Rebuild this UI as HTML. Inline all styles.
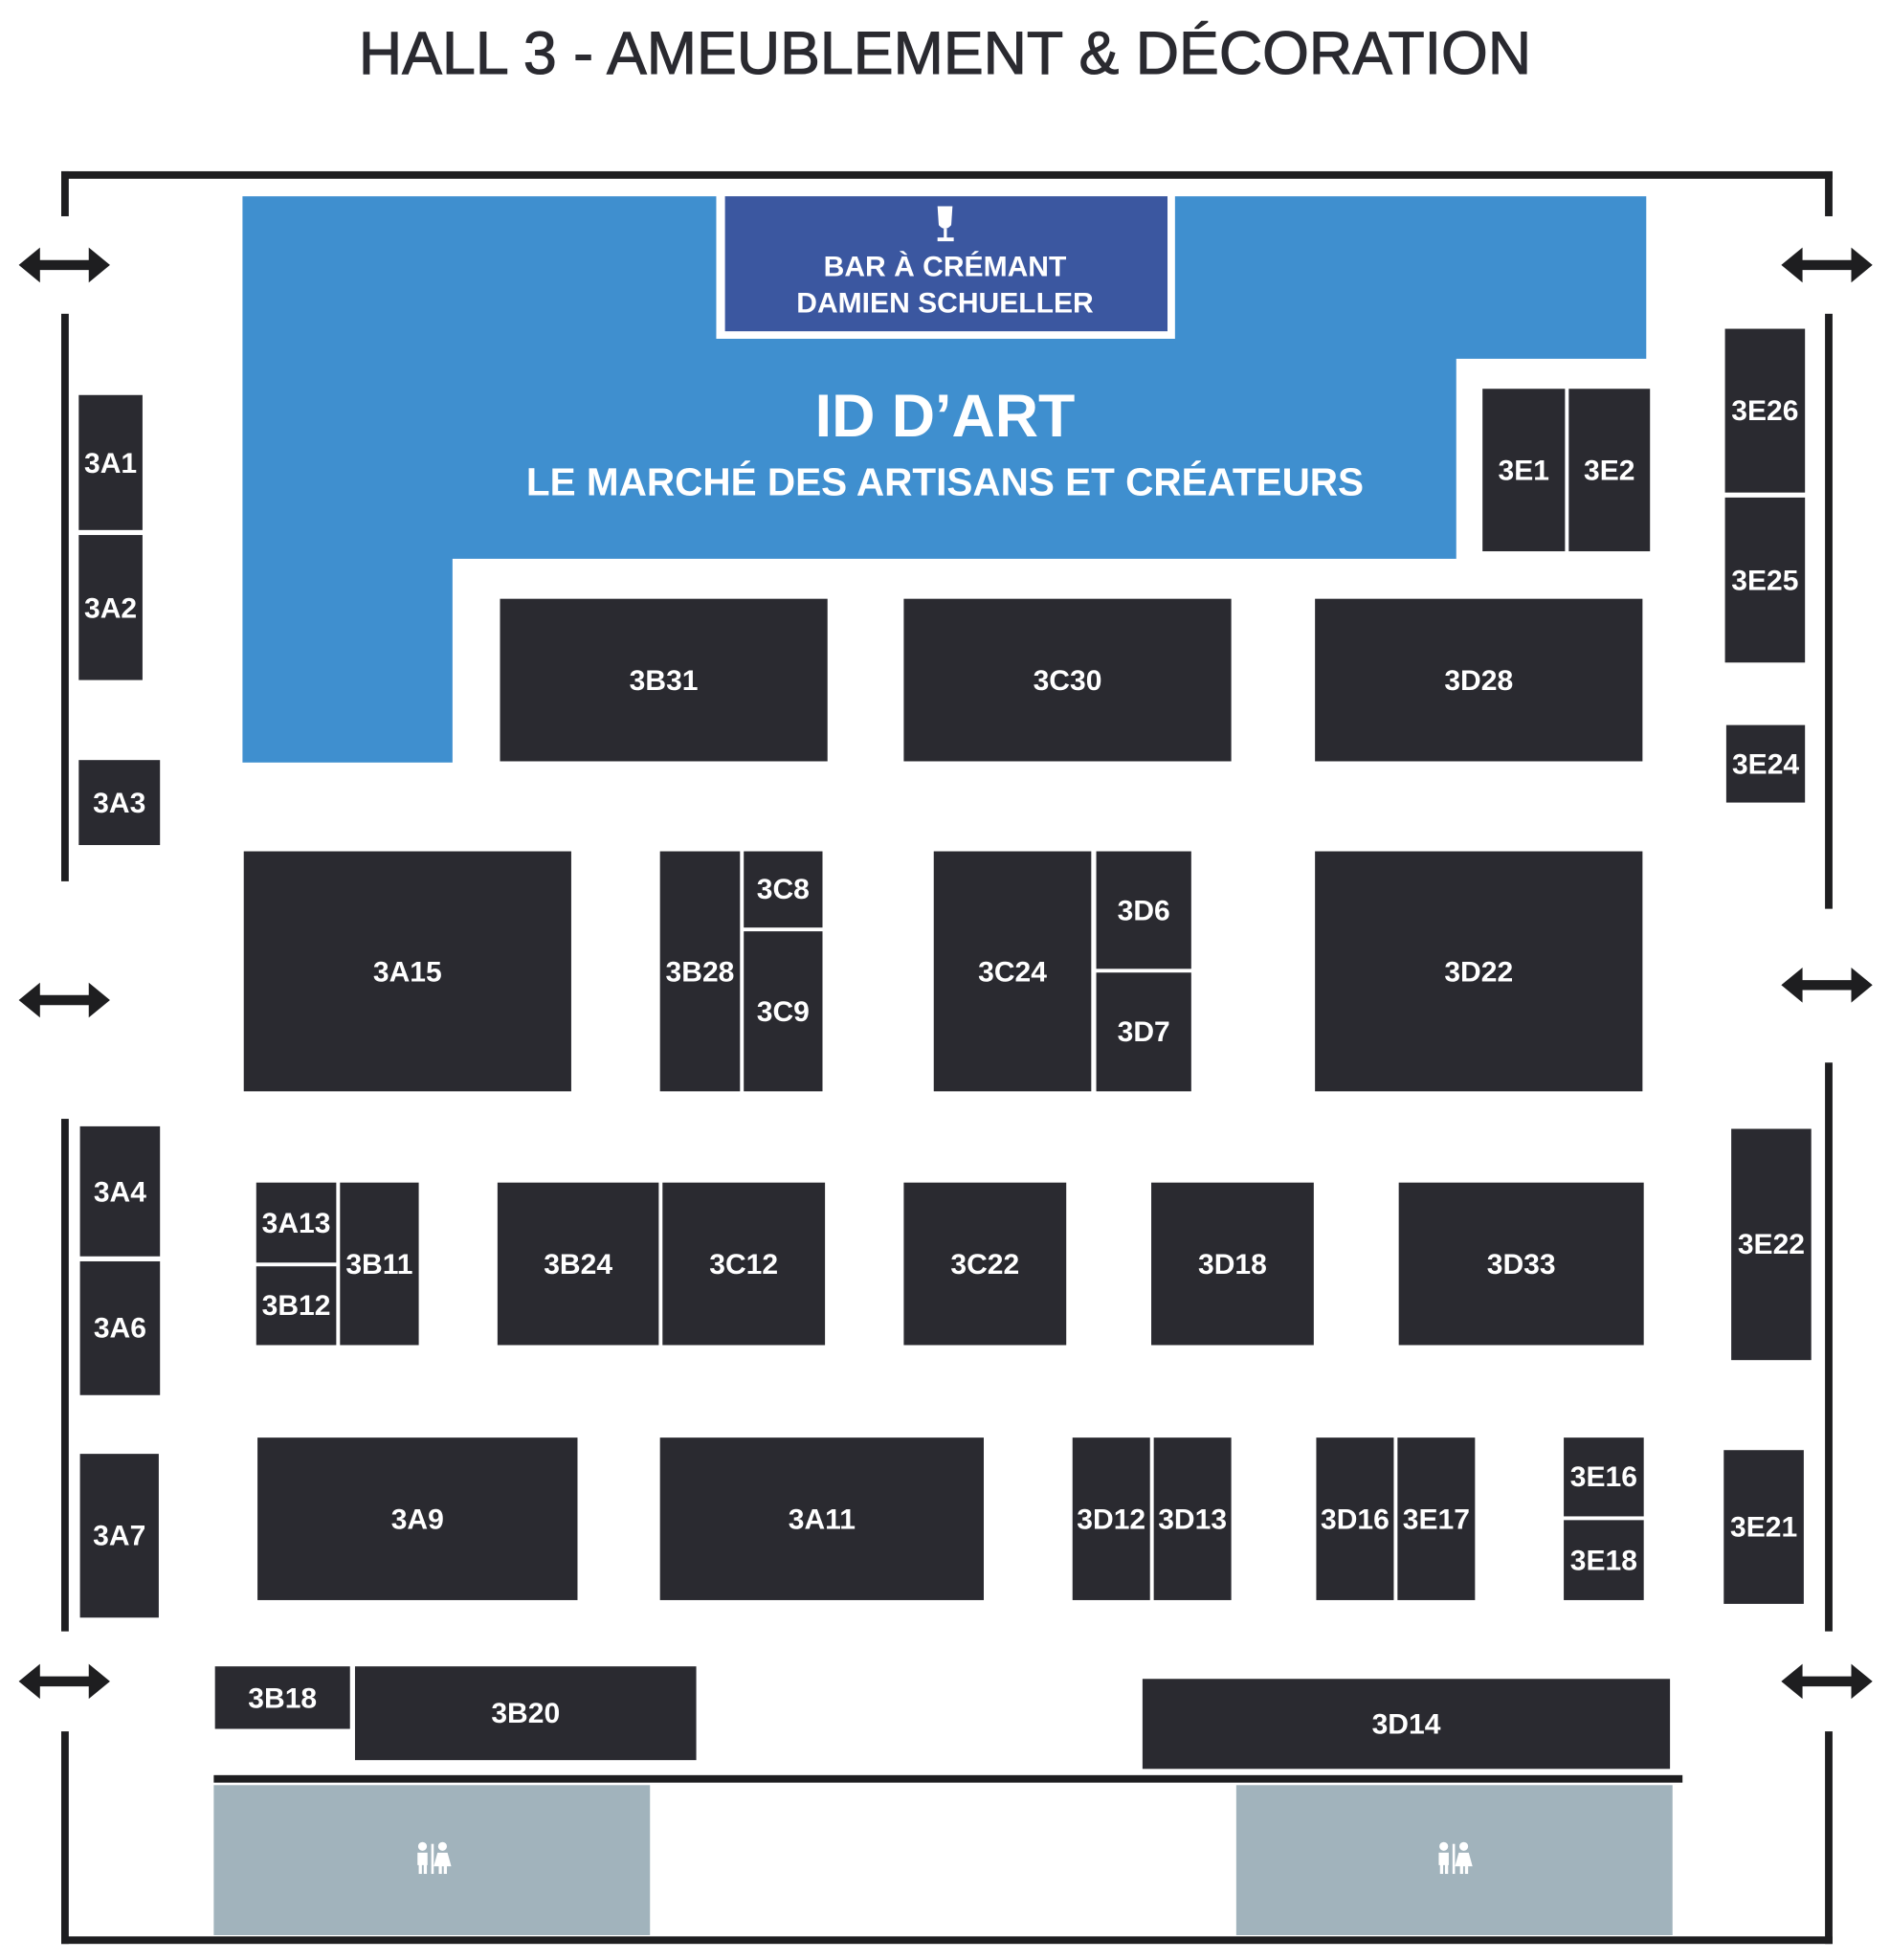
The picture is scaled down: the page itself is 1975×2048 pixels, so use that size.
<!DOCTYPE html>
<html><head><meta charset="utf-8"><style>
html,body{margin:0;padding:0;background:#fff;}
body{width:1975px;height:2048px;overflow:hidden;position:relative;}
#m{position:absolute;left:0;top:0;width:1512px;height:1568px;transform:scale(1.30622);transform-origin:0 0;font-family:"Liberation Sans",sans-serif;}
.b{position:absolute;background:#2a2a30;color:#fff;font-weight:bold;font-size:23px;display:flex;align-items:center;justify-content:center;}
.w{position:absolute;background:#1e1e20;}
.g{position:absolute;background:#a1b3bc;}
.t{position:absolute;left:0;width:1512px;text-align:center;color:#2a2a30;}
</style></head><body><div id="m">
<div class="t" style="top:16px;font-size:48px;-webkit-text-stroke:0.8px #2a2a30;">HALL 3 - AMEUBLEMENT &amp; DÉCORATION</div>

<div class="w" style="left:49px;top:137px;width:1417px;height:6px"></div>
<div class="w" style="left:49px;top:137px;width:6px;height:36px"></div>
<div class="w" style="left:49px;top:251px;width:6px;height:454px"></div>
<div class="w" style="left:49px;top:895px;width:6px;height:410px"></div>
<div class="w" style="left:49px;top:1385px;width:6px;height:170px"></div>
<div class="w" style="left:49px;top:1549px;width:1417px;height:6px"></div>
<div class="w" style="left:1460px;top:137px;width:6px;height:36px"></div>
<div class="w" style="left:1460px;top:251px;width:6px;height:476px"></div>
<div class="w" style="left:1460px;top:850px;width:6px;height:455px"></div>
<div class="w" style="left:1460px;top:1385px;width:6px;height:170px"></div>
<div class="w" style="left:171px;top:1420px;width:1175px;height:6px"></div>

<svg style="position:absolute;left:0;top:0" width="1512" height="1568">
<g fill="#1e1e20">
<path id="ar" d="M15,212 L32,198 L32,208 L71,208 L71,198 L88,212 L71,226 L71,216 L32,216 L32,226 Z"/>
<use href="#ar" y="588"/><use href="#ar" y="1133"/>
<use href="#ar" x="1410"/><use href="#ar" x="1410" y="576"/><use href="#ar" x="1410" y="1133"/>
</g>
<polygon points="194,157 1317,157 1317,287 1165,287 1165,447 362,447 362,610 194,610" fill="#3f8fcf"/>
<rect x="573" y="154" width="367" height="117" fill="#fff"/>
<rect x="580" y="157" width="354" height="108" fill="#3b57a0"/>
<g fill="#fff">
<path d="M750,165 L762,165 L761,180 Q756,186 751,180 Z"/><rect x="755" y="183" width="2.5" height="8"/><rect x="750" y="190" width="13" height="3"/>
</g>
</svg>
<div class="t" style="top:199px;font-size:23px;color:#fff;font-weight:bold;line-height:29px;">BAR À CRÉMANT<br>DAMIEN SCHUELLER</div>
<div class="t" style="top:306px;font-size:48px;color:#fff;font-weight:bold;">ID D’ART</div>
<div class="t" style="top:368px;font-size:31px;color:#fff;font-weight:bold;">LE MARCHÉ DES ARTISANS ET CRÉATEURS</div>

<div class="g" style="left:171px;top:1428px;width:349px;height:120px"></div>
<div class="g" style="left:989px;top:1428px;width:349px;height:120px"></div>
<svg style="position:absolute;left:0;top:0" width="1512" height="1568"><g fill="#fff">
<g id="wc2"><circle cx="338" cy="1477" r="3.5"/><rect x="334" y="1482" width="8" height="10"/><rect x="335" y="1491" width="2.5" height="8"/><rect x="339" y="1491" width="2.5" height="8"/>
<rect x="345" y="1475" width="2" height="24"/>
<circle cx="354" cy="1477" r="3.5"/><path d="M350,1482 L358,1482 L361,1493 L347,1493 Z"/><rect x="351" y="1492" width="2.5" height="7"/><rect x="355" y="1492" width="2.5" height="7"/></g>
<use href="#wc2" x="817"/></g></svg>

<div class="b" style="left:63px;top:316px;width:51px;height:108px">3A1</div>
<div class="b" style="left:63px;top:428px;width:51px;height:116px">3A2</div>
<div class="b" style="left:63px;top:608px;width:65px;height:68px">3A3</div>
<div class="b" style="left:1186px;top:311px;width:66px;height:130px">3E1</div>
<div class="b" style="left:1255px;top:311px;width:65px;height:130px">3E2</div>
<div class="b" style="left:1380px;top:263px;width:64px;height:131px">3E26</div>
<div class="b" style="left:1380px;top:398px;width:64px;height:132px">3E25</div>
<div class="b" style="left:1381px;top:580px;width:63px;height:62px">3E24</div>
<div class="b" style="left:400px;top:479px;width:262px;height:130px">3B31</div>
<div class="b" style="left:723px;top:479px;width:262px;height:130px">3C30</div>
<div class="b" style="left:1052px;top:479px;width:262px;height:130px">3D28</div>
<div class="b" style="left:195px;top:681px;width:262px;height:192px">3A15</div>
<div class="b" style="left:528px;top:681px;width:64px;height:192px">3B28</div>
<div class="b" style="left:595px;top:681px;width:63px;height:61px">3C8</div>
<div class="b" style="left:595px;top:745px;width:63px;height:128px">3C9</div>
<div class="b" style="left:747px;top:681px;width:126px;height:192px">3C24</div>
<div class="b" style="left:877px;top:681px;width:76px;height:94px">3D6</div>
<div class="b" style="left:877px;top:778px;width:76px;height:95px">3D7</div>
<div class="b" style="left:1052px;top:681px;width:262px;height:192px">3D22</div>
<div class="b" style="left:64px;top:901px;width:64px;height:104px">3A4</div>
<div class="b" style="left:64px;top:1009px;width:64px;height:107px">3A6</div>
<div class="b" style="left:64px;top:1163px;width:63px;height:131px">3A7</div>
<div class="b" style="left:205px;top:946px;width:64px;height:64px">3A13</div>
<div class="b" style="left:205px;top:1013px;width:64px;height:63px">3B12</div>
<div class="b" style="left:272px;top:946px;width:63px;height:130px">3B11</div>
<div class="b" style="left:398px;top:946px;width:129px;height:130px">3B24</div>
<div class="b" style="left:530px;top:946px;width:130px;height:130px">3C12</div>
<div class="b" style="left:723px;top:946px;width:130px;height:130px">3C22</div>
<div class="b" style="left:921px;top:946px;width:130px;height:130px">3D18</div>
<div class="b" style="left:1119px;top:946px;width:196px;height:130px">3D33</div>
<div class="b" style="left:1385px;top:903px;width:64px;height:185px">3E22</div>
<div class="b" style="left:206px;top:1150px;width:256px;height:130px">3A9</div>
<div class="b" style="left:528px;top:1150px;width:259px;height:130px">3A11</div>
<div class="b" style="left:858px;top:1150px;width:62px;height:130px">3D12</div>
<div class="b" style="left:923px;top:1150px;width:62px;height:130px">3D13</div>
<div class="b" style="left:1053px;top:1150px;width:62px;height:130px">3D16</div>
<div class="b" style="left:1118px;top:1150px;width:62px;height:130px">3E17</div>
<div class="b" style="left:1251px;top:1150px;width:64px;height:63px">3E16</div>
<div class="b" style="left:1251px;top:1216px;width:64px;height:64px">3E18</div>
<div class="b" style="left:1379px;top:1160px;width:64px;height:123px">3E21</div>
<div class="b" style="left:172px;top:1333px;width:108px;height:50px">3B18</div>
<div class="b" style="left:284px;top:1333px;width:273px;height:75px">3B20</div>
<div class="b" style="left:914px;top:1343px;width:422px;height:72px">3D14</div>
</div></body></html>
